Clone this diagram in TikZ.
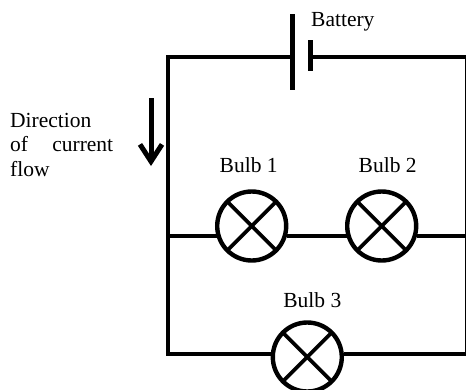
\documentclass[tikz,border=0pt]{standalone}
\usepackage{fontspec}
\setmainfont{Liberation Serif}
\usepackage{tikz}
\usetikzlibrary{positioning}
\usetikzlibrary{arrows.meta}

\begin{document}
\begin{tikzpicture}[x=1pt,y=-1pt]

\tikzset{wire/.style={line width=4.4pt},
	bulb/.style={
		draw,
		circle,
		line width=4.4pt,
		minimum size=69pt,
		inner sep=0pt,
		path picture={
			\draw[line width=3.8pt] (path picture bounding box.north west) -- (path picture bounding box.south east);
			\draw[line width=3.8pt] (path picture bounding box.north east) -- (path picture bounding box.south west);
		},
	},
	plate/.style={
		fill=black,
		inner sep=0pt,
		minimum width=5pt,
		minimum height=#1,
	},
	label/.style={
		font=\fontsize{21.5}{24.5}\selectfont,
		inner sep=0pt,
	}
}
\clip (0,0) rectangle (466,389);

\coordinate (topleft) at (168,57);
\coordinate (midleft) at (168,236);
\coordinate (botleft) at (168,354);
\coordinate (topright) at (467,57);
\coordinate (midright) at (467,236);
\coordinate (botright) at (467,354);

\node[plate=76pt] (plateA) at (292.7,52) {};
\node[plate=31pt] (plateB) at (310,55.5) {};

\node[bulb] (bulb1) at (251.7,226) {};
\node[bulb] (bulb2) at (381.7,226) {};
\node[bulb] (bulb3) at (307.3,357) {};

\draw[wire] (plateA.west |- topleft) -- (topleft) -- (botleft) -- (bulb3.175 |- botleft);
\draw[wire] (plateB.east |- topright) -- (topright) -- (botright) -- (bulb3.5 |- botright);
\draw[wire] (midleft) -- (bulb1.197 |- midleft);
\draw[wire] (bulb1.-17 |- midleft) -- (bulb2.197 |- midleft);
\draw[wire] (bulb2.-17 |- midright) -- (midright);

\node[label,anchor=base west] (battery) at (311,26) {Battery};
\node[label,above=16pt of bulb1,xshift=-3pt] (label1) {Bulb 1};
\node[label,above=16pt of bulb2,xshift=6pt] (label2) {Bulb 2};
\node[label,above=12pt of bulb3,xshift=5pt] (label3) {Bulb 3};

\node[label,anchor=north west,align=left] (direction) at (10,113) {Direction\\\hbox to 103pt{of\hfill current}\\flow};

\coordinate (flowtop) at (151,98);
\coordinate (flowend) at (151,166);
\draw[line width=5pt,-{Straight Barb[length=17pt,width=22pt,line width=5pt]}] (flowtop) -- (flowend);
\end{tikzpicture}
\end{document}
